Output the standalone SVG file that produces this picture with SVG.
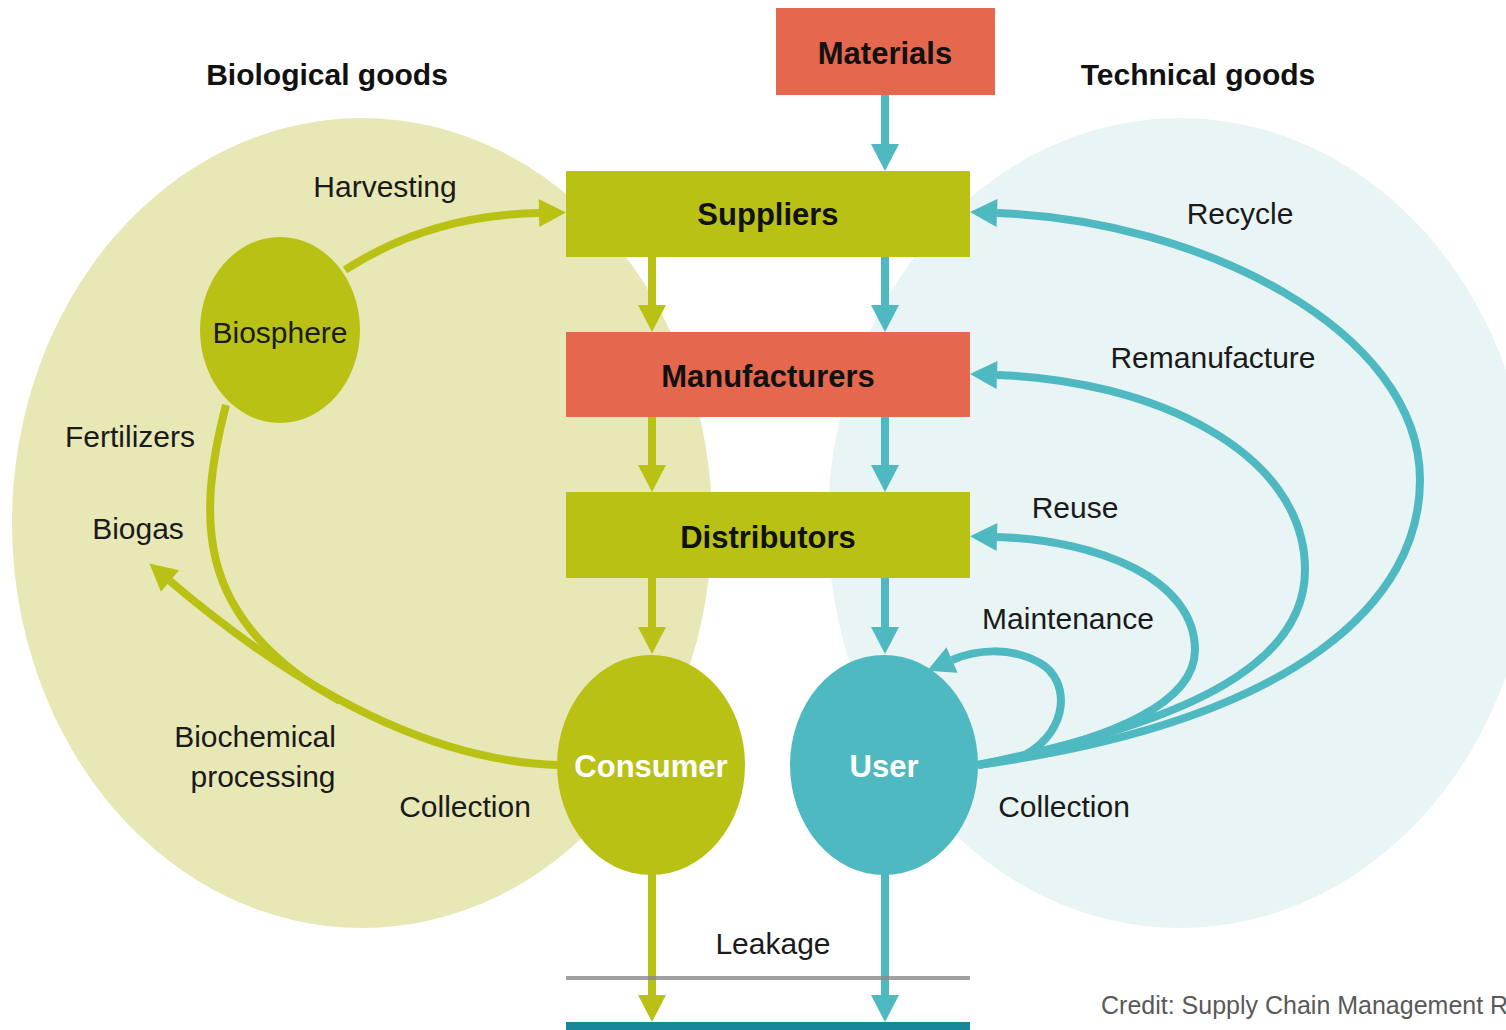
<svg xmlns="http://www.w3.org/2000/svg" width="1506" height="1030" viewBox="0 0 1506 1030">
<style>
.lbl{font-family:"Liberation Sans",Arial,sans-serif;font-size:30px;fill:#1a1a1a;text-anchor:middle}
.hd{font-family:"Liberation Sans",Arial,sans-serif;font-size:30px;font-weight:bold;fill:#111;text-anchor:middle}
.bx{font-family:"Liberation Sans",Arial,sans-serif;font-size:31px;font-weight:bold;fill:#111;text-anchor:middle}
.wt{font-family:"Liberation Sans",Arial,sans-serif;font-size:31px;font-weight:bold;fill:#fff;text-anchor:middle}
.g{fill:none;stroke:#b9c214;stroke-width:8}
.t{fill:none;stroke:#4fb9c1;stroke-width:8}
.cr{font-family:"Liberation Sans",Arial,sans-serif;font-size:25px;fill:#595959}
</style>
<defs>
<marker id="ag" markerUnits="userSpaceOnUse" markerWidth="30" markerHeight="30" refX="0" refY="14" orient="auto" overflow="visible"><path d="M0,0 L27,14 L0,28 z" fill="#b9c214"/></marker>
<marker id="at" markerUnits="userSpaceOnUse" markerWidth="30" markerHeight="30" refX="0" refY="14" orient="auto" overflow="visible"><path d="M0,0 L27,14 L0,28 z" fill="#4fb9c1"/></marker>
</defs>
<rect width="1506" height="1030" fill="#fff"/>
<g id="bg">
<ellipse cx="362" cy="523" rx="350" ry="405" fill="#e7e8b6"/>
<ellipse cx="1180" cy="523" rx="352" ry="405" fill="#e9f4f5"/>
</g>
<g id="connectors">
<path class="t" d="M885,95 V144" marker-end="url(#at)"/>
<path class="g" d="M652,257 V305" marker-end="url(#ag)"/>
<path class="t" d="M885,257 V305" marker-end="url(#at)"/>
<path class="g" d="M652,417 V465" marker-end="url(#ag)"/>
<path class="t" d="M885,417 V465" marker-end="url(#at)"/>
<path class="g" d="M652,578 V627" marker-end="url(#ag)"/>
<path class="t" d="M885,578 V627" marker-end="url(#at)"/>
<path class="g" d="M652,870 V995" marker-end="url(#ag)"/>
<path class="t" d="M885,870 V995" marker-end="url(#at)"/>
<path class="g" d="M345,270 Q430,215 539,213" marker-end="url(#ag)"/>
<path class="g" d="M226,405 C196,520 200,610 313,685 L340,701"/>
<path class="g" d="M560,765 C440,762 310,700 170,581" marker-end="url(#ag)"/>
<path class="t" d="M978,765 C1300,720 1420,600 1420,480 C1420,330 1200,220 997,213" marker-end="url(#at)"/>
<path class="t" d="M978,765 C1200,720 1305,660 1305,570 C1305,450 1150,380 997,375" marker-end="url(#at)"/>
<path class="t" d="M978,765 C1120,740 1195,700 1195,650 C1195,580 1100,540 997,537" marker-end="url(#at)"/>
<path class="t" d="M1025,755 C1070,730 1070,680 1040,663 C1010,646 975,650 952,660" marker-end="url(#at)"/>
</g>
<g id="materials"><rect x="776" y="8" width="219" height="87" fill="#e5674e"/><text class="bx" x="885" y="64">Materials</text></g>
<g id="suppliers"><rect x="566" y="171" width="404" height="86" fill="#b9c214"/><text class="bx" x="768" y="225">Suppliers</text></g>
<g id="manufacturers"><rect x="566" y="332" width="404" height="85" fill="#e5674e"/><text class="bx" x="768" y="387">Manufacturers</text></g>
<g id="distributors"><rect x="566" y="492" width="404" height="86" fill="#b9c214"/><text class="bx" x="768" y="548">Distributors</text></g>
<g id="consumer"><ellipse cx="651" cy="765" rx="94" ry="110" fill="#b9c214"/><text class="wt" x="651" y="777">Consumer</text></g>
<g id="user"><ellipse cx="884" cy="765" rx="94" ry="110" fill="#4fb9c1"/><text class="wt" x="884" y="777">User</text></g>
<g id="biosphere"><ellipse cx="280" cy="330" rx="80" ry="93" fill="#b9c214"/><text class="lbl" x="280" y="343">Biosphere</text></g>
<g id="leakage">
<line x1="566" y1="978" x2="970" y2="978" stroke="#8a8a8a" stroke-opacity="0.8" stroke-width="4"/>
<rect x="566" y="1022" width="404" height="8" fill="#16889a"/>
<text class="lbl" x="773" y="954">Leakage</text>
</g>
<g id="labels">
<text class="hd" x="327" y="85">Biological goods</text>
<text class="hd" x="1198" y="85">Technical goods</text>
<text class="lbl" x="385" y="197">Harvesting</text>
<text class="lbl" x="130" y="447">Fertilizers</text>
<text class="lbl" x="138" y="539">Biogas</text>
<text class="lbl" x="255" y="747">Biochemical</text>
<text class="lbl" x="263" y="787">processing</text>
<text class="lbl" x="465" y="817">Collection</text>
<text class="lbl" x="1240" y="224">Recycle</text>
<text class="lbl" x="1213" y="368">Remanufacture</text>
<text class="lbl" x="1075" y="518">Reuse</text>
<text class="lbl" x="1068" y="629">Maintenance</text>
<text class="lbl" x="1064" y="817">Collection</text>
<text class="cr" x="1101" y="1014">Credit: Supply Chain Management R</text>
</g>
</svg>
